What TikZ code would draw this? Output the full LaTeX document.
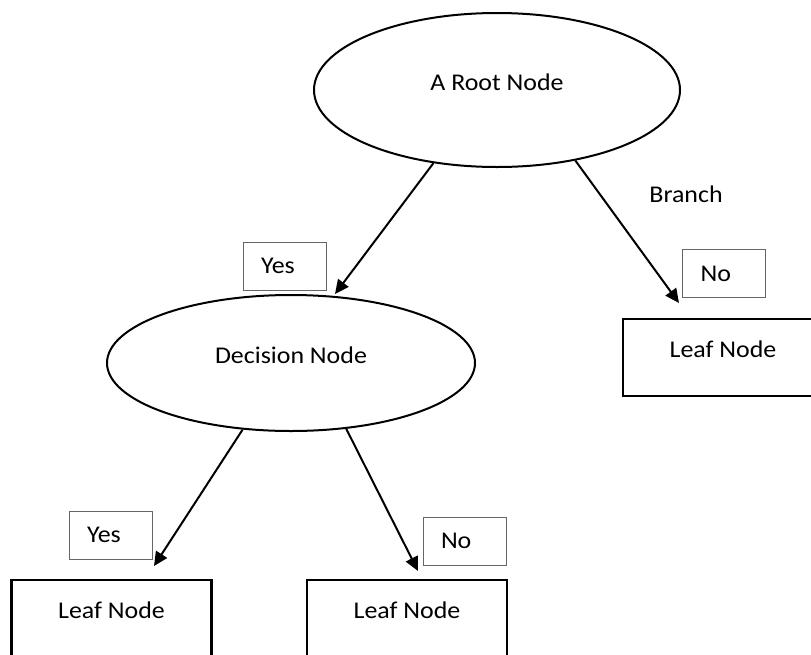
\documentclass[tikz,border=0pt]{standalone}
\usepackage{fontspec}
\setmainfont{Carlito}[FakeStretch=1.08]
\usetikzlibrary{shapes.geometric,arrows.meta}
\begin{document}
\begin{tikzpicture}[x=1pt,y=-1pt,
  lbl/.style={font=\fontsize{24}{28}\selectfont},
  ell/.style={ellipse, draw, line width=2pt, inner sep=0pt, lbl, text height=16pt, text depth=16pt},
  leaf/.style={rectangle, draw, line width=2.5pt, minimum width=200pt, minimum height=77pt, inner sep=0pt, lbl, text height=16pt, text depth=16pt},
  tag/.style={rectangle, draw=black!60, line width=1pt, minimum height=48pt, inner xsep=18pt, inner ysep=0pt, text width=47pt, align=left, text height=15pt, text depth=0pt, lbl},
  arr/.style={line width=2pt, -{Triangle[length=14pt,width=13pt]}}]
\clip (0,0) rectangle (811,654);
\fill[white] (0,0) rectangle (811,654);
\node[ell, minimum width=366pt, minimum height=154pt] (root) at (497,90) {A Root Node};
\node[ell, minimum width=368pt, minimum height=136pt] (dec) at (291,363) {Decision Node};
\node[leaf] (leafR) at (723,357.5) {Leaf Node};
\node[leaf] (leafL) at (111.5,618.5) {Leaf Node};
\node[leaf] (leafM) at (407,618.5) {Leaf Node};
\node[tag] (yes1) at (284.5,266) {Yes};
\node[tag] (no1) at (724,273.5) {No};
\node[tag] (yes2) at (110.5,535) {Yes};
\node[tag] (no2) at (464.5,541) {No};
\node[lbl, anchor=base] (branch) at (686,202.7) {Branch};
\coordinate (t1) at (335,294);
\coordinate (t2) at (679,303);
\coordinate (t3) at (154,566);
\coordinate (t4) at (418,571);
\draw[arr] (root.229) -- (t1);
\draw[arr] (root.-42) -- (t2);
\draw[arr] (dec.234) -- (t3);
\draw[arr] (dec.-50) -- (t4);
\end{tikzpicture}
\end{document}
